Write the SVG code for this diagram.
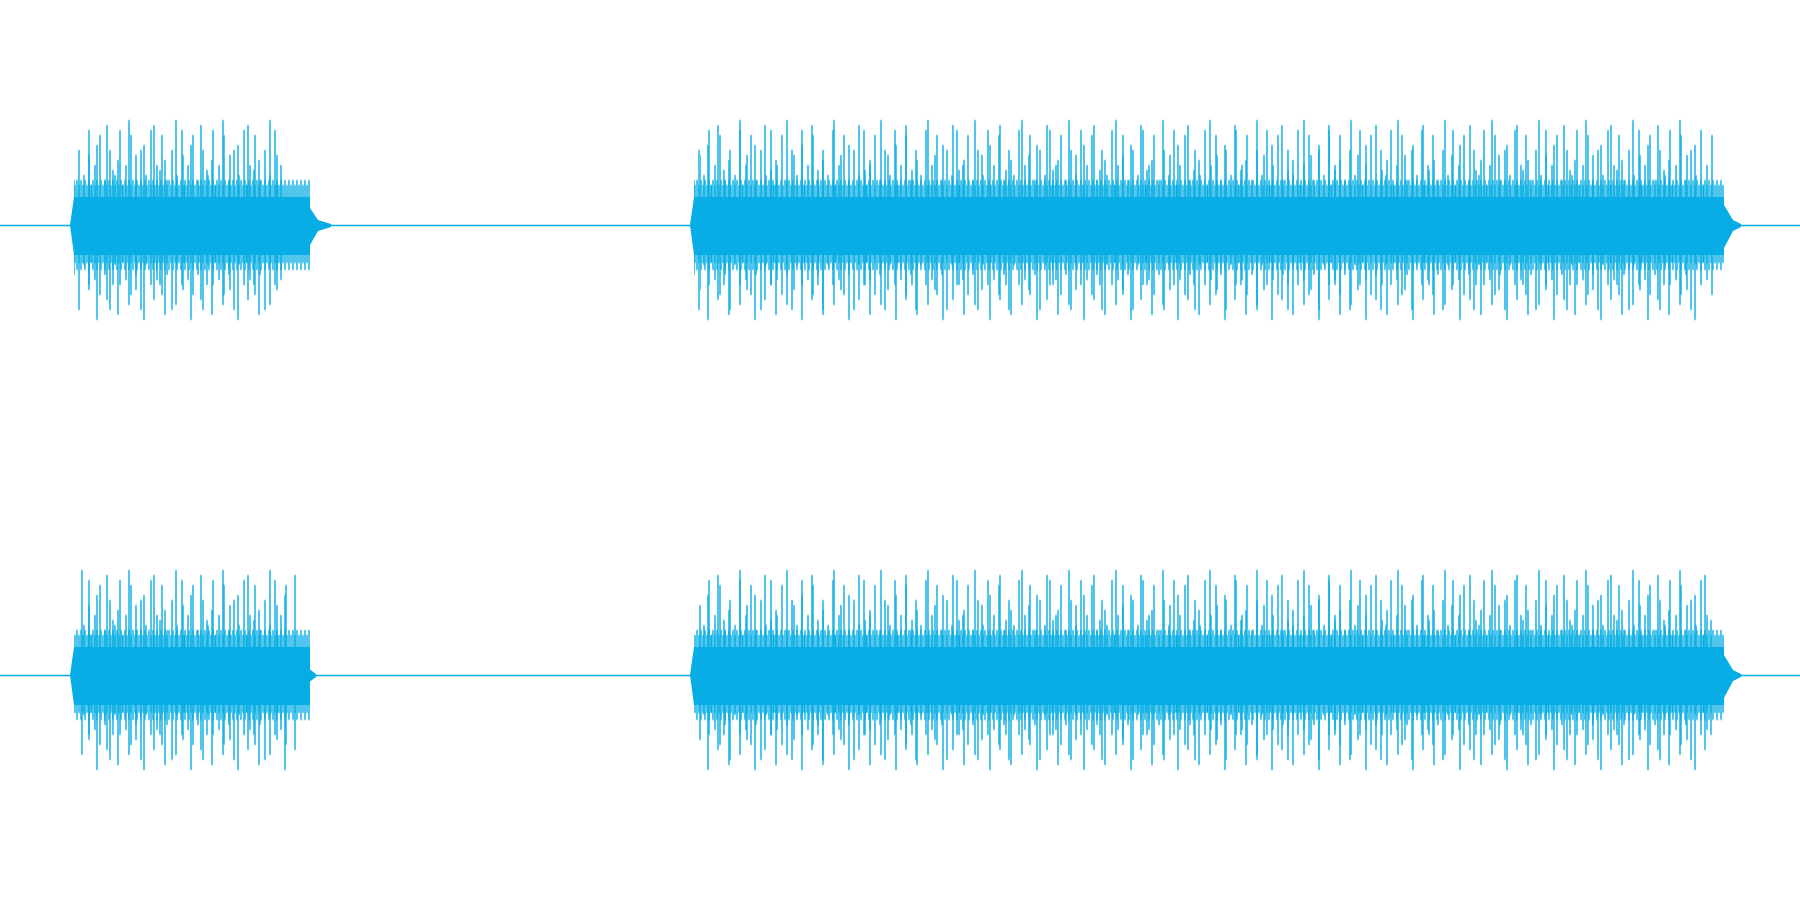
<svg xmlns="http://www.w3.org/2000/svg" width="1800" height="900" viewBox="0 0 1800 900">
<style>.w{stroke:#06ADE4;stroke-width:1.4;fill:none}.f{fill:#06ADE4}</style>
<defs>
<pattern id="A" patternUnits="userSpaceOnUse" x="0" y="112.5" width="31" height="225"><path class="w" d="M2 52.5V167.5M7 22.5V182.5M12 67.5V162.5M17 37.5V197.5M22 62.5V152.5M27 17.5V172.5M29.5 72.5V150"/></pattern>
<pattern id="B" patternUnits="userSpaceOnUse" x="0" y="112.5" width="47" height="225"><path class="w" d="M3 32.5V207.5M13 12.5V187.5M24 47.5V202.5M35 7.5V192.5M42 42.5V177.5M19 57.5V172.5"/></pattern>
<pattern id="C" patternUnits="userSpaceOnUse" x="0" y="112.5" width="4" height="225"><path class="w" d="M1 67.5V157.5M3 72.5V150.5"/></pattern>
</defs>
<rect width="1800" height="900" fill="#fff"/>
<path class="w" d="M0 225.5H1800M0 675.5H1800"/>
<g>
<rect x="74" y="197" width="236" height="58" class="f"/>
<rect x="74" y="155" width="236" height="140" fill="url(#C)"/>
<rect x="74" y="115" width="210" height="220" fill="url(#A)"/>
<rect x="88" y="112" width="190" height="230" fill="url(#B)"/>
<path class="f" d="M70 225L74 197V255ZM310 208L318 220L331 224V227L318 231L310 245Z"/>
</g>
<g>
<rect x="694" y="197" width="1030" height="58" class="f"/>
<rect x="694" y="155" width="1030" height="140" fill="url(#C)"/>
<rect x="694" y="125" width="1020" height="210" fill="url(#A)"/>
<rect x="700" y="118" width="1000" height="222" fill="url(#B)"/>
<path class="f" d="M690 225L694 197V255ZM1724 205L1733 220L1741 224V227L1733 231L1724 248Z"/>
</g>
<g>
<rect x="74" y="647" width="236" height="58" class="f"/>
<rect x="74" y="605" width="236" height="140" fill="url(#C)"/>
<rect x="74" y="560" width="225" height="225" fill="url(#B)"/>
<rect x="80" y="570" width="210" height="210" fill="url(#A)"/>
<path class="f" d="M70 675L74 647V705ZM300 655L308 668L316 674V677L308 683L300 697Z"/>
</g>
<g>
<rect x="694" y="647" width="1030" height="58" class="f"/>
<rect x="694" y="605" width="1030" height="140" fill="url(#C)"/>
<rect x="694" y="560" width="1020" height="225" fill="url(#B)"/>
<rect x="700" y="580" width="1010" height="200" fill="url(#A)"/>
<path class="f" d="M690 675L694 647V705ZM1724 655L1733 670L1741 674V677L1733 681L1724 698Z"/>
</g>
</svg>
